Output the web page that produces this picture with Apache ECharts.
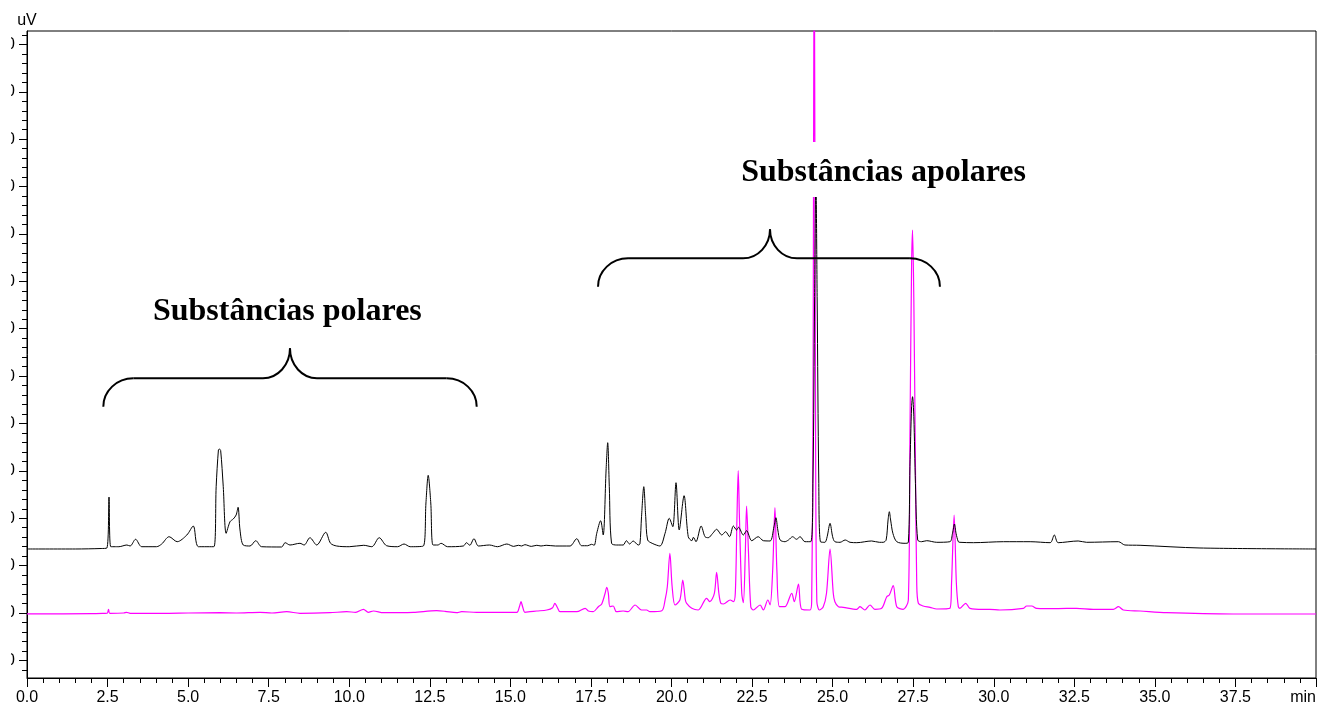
<!DOCTYPE html>
<html>
<head>
<meta charset="utf-8">
<script src="https://cdn.jsdelivr.net/npm/echarts@6/dist/echarts.min.js"></script>
<style>
  html, body { margin: 0; padding: 0; background: #fff; }
  /* the frame trims the left margin of the page so the y labels run off its edge */
  #frame { position: absolute; left: 11px; top: 0; width: 1308px; height: 707px; overflow: hidden; }
  #chart { position: absolute; left: -11px; top: 0; width: 1319px; height: 707px; }
</style>
</head>
<body>
<div id="frame"><div id="chart"></div></div>
<script>
// Retention time (min) and detector signal (uV) of the two chromatograms.
const blackTrace = [
  [0,135100],[1.5,135100],[2.3,136100],[2.48,137200],[2.545,244800],[2.6,139900],[2.85,139900],
  [3.1,143500],[3.2,141400],[3.37,155600],[3.56,139900],[4.02,139900],[4.18,145600],[4.41,161000],
  [4.66,150500],[4.96,164600],[5.16,183600],[5.32,139900],[5.8,139900],[5.87,266600],[5.94,344000],
  [5.97,346100],[6.01,342600],[6.09,266600],[6.18,168200],[6.3,192700],[6.4,198400],[6.49,206800],
  [6.55,223100],[6.61,175200],[6.71,143500],[6.92,141400],[7.1,152600],[7.28,139900],[7.9,139300],
  [8.01,148400],[8.16,143500],[8.47,147100],[8.6,143500],[8.78,158900],[8.99,143500],[9.27,170300],
  [9.42,147100],[9.61,141400],[10,139900],[10.45,142900],[10.7,139900],[10.93,158900],[11.16,142000],
  [11.5,139900],[11.7,145600],[11.89,139900],[12.3,141400],[12.38,232200],[12.45,290600],[12.53,232200],
  [12.6,143500],[12.75,143500],[12.85,147100],[13.05,139900],[13.54,141400],[13.64,148400],[13.74,142900],
  [13.87,156800],[14.01,141400],[14.35,143500],[14.6,139900],[14.89,145600],[15.1,140600],[15.25,142900],
  [15.35,141400],[15.45,144200],[15.65,140600],[15.82,142900],[15.95,141400],[16.11,142900],[16.4,141400],
  [16.85,141400],[17.06,156800],[17.21,142000],[17.4,142000],[17.52,145000],[17.6,142900],[17.68,168200],
  [17.8,194800],[17.88,164600],[17.97,301800],[18.02,359400],[18.07,266600],[18.14,147100],[18.3,143500],
  [18.5,143500],[18.6,152600],[18.7,145600],[18.81,152000],[18.97,143500],[19.02,145600],[19.07,203300],
  [19.14,266600],[19.2,203300],[19.26,154100],[19.4,147100],[19.64,141400],[19.8,168200],[19.93,199900],
  [20.04,182100],[20.14,275000],[20.24,175200],[20.39,247600],[20.52,161000],[20.63,152600],[20.68,159800],
  [20.76,150500],[20.92,183600],[21.04,161000],[21.14,158900],[21.28,168200],[21.4,176700],[21.56,164600],
  [21.68,171600],[21.8,161000],[21.92,183600],[22.02,175200],[22.08,180900],[22.23,164600],[22.33,173700],
  [22.49,152600],[22.69,161000],[22.85,152600],[23.06,152000],[23.18,182100],[23.24,201100],[23.3,175200],
  [23.37,154100],[23.52,150500],[23.63,154100],[23.76,161000],[23.88,155600],[23.99,161000],[24.14,150500],
  [24.32,150500],[24.39,280700],[24.44,660600],[24.48,924400],[24.52,660600],[24.57,280700],[24.62,150500],
  [24.76,149200],[24.83,161000],[24.92,189300],[25,161000],[25.07,150500],[25.23,149200],[25.39,154100],
  [25.54,149200],[25.75,148400],[26.21,152000],[26.45,149200],[26.57,149200],[26.66,154100],[26.72,196300],
  [26.76,213800],[26.8,196300],[26.87,168200],[26.99,150500],[27.25,147100],[27.35,149200],[27.4,308800],
  [27.45,435400],[27.48,456500],[27.52,414300],[27.57,273700],[27.64,154100],[27.76,150500],[27.92,152600],
  [28.23,149200],[28.64,150500],[28.72,168200],[28.78,187800],[28.83,168200],[28.9,150500],[28.95,149200],
  [29.37,148400],[30.3,150500],[31.13,150500],[31.75,148400],[31.88,164600],[32,148400],[32.62,152000],
  [32.88,149200],[33.87,150500],[34.07,143500],[34.54,142900],[36.4,137200],[40,135100]
];

const magentaTrace = [
  [0,-1800],[2,-1500],[2.4,-900],[2.49,-600],[2.53,7800],[2.57,-600],[3.0,0],[3.09,1500],[3.2,-600],
  [4.2,-600],[5,0],[5.99,600],[6.5,0],[7.23,1500],[7.6,0],[8.06,2700],[8.47,-600],[9.4,600],[9.92,2700],
  [10.2,1500],[10.44,7800],[10.59,1500],[10.75,4200],[11.06,600],[11.99,1500],[12.71,4900],[12.97,3600],
  [13.33,600],[13.49,2700],[13.95,1500],[14.68,1500],[15.2,1500],[15.28,13300],[15.33,23800],[15.38,13300],
  [15.45,1500],[15.61,2700],[15.82,4200],[16.13,6300],[16.31,11200],[16.38,20500],[16.47,9900],[16.54,2700],
  [17.06,2700],[17.32,9900],[17.42,4200],[17.57,2700],[17.73,13300],[17.83,18400],[17.94,41600],[17.99,54200],
  [18.04,41600],[18.09,13300],[18.19,14800],[18.29,2700],[18.5,4200],[18.65,2700],[18.87,16900],[19.07,6300],
  [19.23,6300],[19.33,2700],[19.7,4900],[19.8,27400],[19.87,55500],[19.95,126000],[20.02,55500],[20.11,16900],
  [20.26,27400],[20.35,69600],[20.43,27400],[20.47,20500],[20.63,9900],[20.83,6300],[21.09,31000],[21.19,23800],
  [21.33,41600],[21.4,85900],[21.47,41600],[21.53,20500],[21.61,19000],[21.82,27400],[21.92,23800],[21.98,41600],
  [22.03,196300],[22.07,300300],[22.11,196300],[22.18,41600],[22.23,21700],[22.29,126000],[22.33,225800],
  [22.39,126000],[22.46,13300],[22.54,6300],[22.75,16900],[22.85,6300],[22.99,27400],[23.06,16900],[23.14,90800],
  [23.21,222200],[23.27,90800],[23.35,13300],[23.52,13300],[23.73,41600],[23.81,23800],[23.94,61200],[24.04,7800],
  [24.3,6300],[24.35,25000],[24.39,400000],[24.43,1500000],[24.47,400000],[24.51,25000],[24.59,6300],
  [24.71,13300],[24.81,41600],[24.92,135100],[25.02,41600],[25.07,23800],[25.18,13300],[25.33,12000],
  [25.75,7800],[25.85,13300],[26,6300],[26.16,16900],[26.31,7800],[26.52,9900],[26.68,34400],[26.76,38000],
  [26.88,57600],[26.99,13300],[27.19,7800],[27.35,27400],[27.4,379300],[27.45,730900],[27.48,808400],
  [27.52,660600],[27.57,308800],[27.61,62700],[27.66,20500],[27.81,14800],[28.02,12000],[28.23,8400],
  [28.64,9900],[28.69,62700],[28.77,206800],[28.84,62700],[28.9,13300],[28.95,9900],[29.13,20500],
  [29.26,9900],[29.67,7800],[29.88,7800],[30.19,6300],[30.92,9900],[31.02,14800],[31.18,14800],[31.33,9900],
  [31.95,9200],[32.57,9900],[33.09,7800],[33.71,7800],[33.87,13300],[34.02,6300],[34.54,4200],[35.37,600],
  [37.43,-2100],[40,-2100]
];

// Axis ranges and tick positions
const timeRange = [0, 40];
const timeStep = 2.5;
const signalRange = [-137200, 1228400];
const signalMajorTicks = [-100000, 0, 100000, 200000, 300000, 400000, 500000, 600000,
                          700000, 800000, 900000, 1000000, 1100000, 1200000];
const signalMinorTicks = [];
for (let v = -120000; v <= 1220000; v += 20000) signalMinorTicks.push(v);

// Bracketed groups of peaks with their captions (time in min, signal in uV)
const peakGroups = [
  { text: 'Substâncias polares',  textAt: [8.08, 635300],
    from: 2.368, to: 13.955, tip: 8.161, foot: 435400, bar: 495400, peak: 558700 },
  { text: 'Substâncias apolares', textAt: [26.58, 929700],
    from: 17.72, to: 28.33, tip: 23.057, foot: 688700, bar: 748600, peak: 809800 }
];

const SANS = '"Liberation Sans", Arial, sans-serif';
const SERIF = '"Liberation Serif", "Times New Roman", serif';

const chart = echarts.init(document.getElementById('chart'), null, { renderer: 'canvas' });

chart.setOption({
  animation: false,
  backgroundColor: '#fff',
  grid: { left: 27, right: 3, top: 31, bottom: 29, containLabel: false, outerBoundsMode: 'none',
          show: true, borderColor: '#000', borderWidth: 1, backgroundColor: 'transparent' },
  xAxis: {
    type: 'value', min: timeRange[0], max: timeRange[1], interval: timeStep,
    axisLine: { show: true, onZero: false, lineStyle: { color: '#000', width: 1 } },
    axisTick: { show: true, length: 9, lineStyle: { color: '#000', width: 1 } },
    minorTick: { show: true, splitNumber: 5, length: 5, lineStyle: { color: '#000', width: 1 } },
    splitLine: { show: false },
    minorSplitLine: { show: false },
    axisLabel: {
      color: '#000', fontSize: 16, fontFamily: SANS, margin: 12, alignMaxLabel: 'right',
      formatter: v => (v === timeRange[1] ? 'min' : v.toFixed(1))
    }
  },
  yAxis: [
    {
      type: 'value', min: signalRange[0], max: signalRange[1],
      name: 'uV', nameLocation: 'end', nameGap: 2,
      nameTextStyle: { color: '#000', fontSize: 16, fontFamily: SANS },
      axisLine: { show: true, onZero: false, lineStyle: { color: '#000', width: 1 } },
      axisTick: { show: true, length: 8, customValues: signalMajorTicks,
                  lineStyle: { color: '#000', width: 1 } },
      axisLabel: { show: true, customValues: signalMajorTicks, margin: 12,
                   color: '#000', fontSize: 16, fontFamily: SANS,
                   formatter: v => String(v) },
      splitLine: { show: false }
    },
    {
      type: 'value', min: signalRange[0], max: signalRange[1], position: 'left',
      axisLine: { show: false },
      axisTick: { show: true, length: 5, customValues: signalMinorTicks,
                  lineStyle: { color: '#000', width: 1 } },
      axisLabel: { show: false },
      splitLine: { show: false }
    }
  ],
  series: [
    {
      name: 'Cromatograma B', type: 'line', data: magentaTrace, yAxisIndex: 0,
      symbol: 'none', smooth: 0.3, clip: true, z: 3,
      lineStyle: { color: '#ff00ff', width: 1.2 }
    },
    {
      name: 'Cromatograma A', type: 'line', data: blackTrace, yAxisIndex: 0,
      symbol: 'none', smooth: 0.3, clip: true, z: 4,
      lineStyle: { color: '#000000', width: 1 }
    }
  ]
});

// Braces and captions are placed from axis coordinates.
function toPx(t, v) {
  return chart.convertToPixel({ xAxisIndex: 0, yAxisIndex: 0 }, [t, v]);
}

function braceElements(g) {
  const k = 0.5523, er = 30, tr = 27;
  const L = toPx(g.from, g.foot), R = toPx(g.to, g.foot);
  const H = toPx(g.tip, g.bar), T = toPx(g.tip, g.peak);
  const y0 = L[1], yh = H[1], yt = T[1], xl = L[0], xr = R[0], xt = T[0];
  const ey = y0 - yh, ty = yh - yt;
  const style = { stroke: '#000', lineWidth: 2, fill: null };
  return [
    { type: 'bezierCurve', z: 20, style,
      shape: { x1: xl, y1: y0, cpx1: xl, cpy1: y0 - ey * k, cpx2: xl + er - er * k, cpy2: yh, x2: xl + er, y2: yh } },
    { type: 'line', z: 20, style, shape: { x1: xl + er, y1: yh, x2: xt - tr, y2: yh } },
    { type: 'bezierCurve', z: 20, style,
      shape: { x1: xt - tr, y1: yh, cpx1: xt - tr + tr * k, cpy1: yh, cpx2: xt, cpy2: yt + ty * k, x2: xt, y2: yt } },
    { type: 'bezierCurve', z: 20, style,
      shape: { x1: xt, y1: yt, cpx1: xt, cpy1: yt + ty * k, cpx2: xt + tr - tr * k, cpy2: yh, x2: xt + tr, y2: yh } },
    { type: 'line', z: 20, style, shape: { x1: xt + tr, y1: yh, x2: xr - er, y2: yh } },
    { type: 'bezierCurve', z: 20, style,
      shape: { x1: xr - er, y1: yh, cpx1: xr - er + er * k, cpy1: yh, cpx2: xr, cpy2: y0 - ey * k, x2: xr, y2: y0 } }
  ];
}

function captionElements(g) {
  const p = toPx(g.textAt[0], g.textAt[1]);
  return [
    { type: 'rect', z: 19, shape: { x: p[0] - 146, y: p[1] - 30.5, width: 292, height: 55 },
      style: { fill: '#fff' } },
    { type: 'text', z: 21, x: p[0], y: p[1],
      style: { text: g.text, font: 'bold 32px ' + SERIF, fill: '#000',
               align: 'center', verticalAlign: 'middle' } }
  ];
}

const overlay = [];
peakGroups.forEach(g => { overlay.push(...captionElements(g), ...braceElements(g)); });
chart.setOption({ graphic: { elements: overlay } });
</script>
